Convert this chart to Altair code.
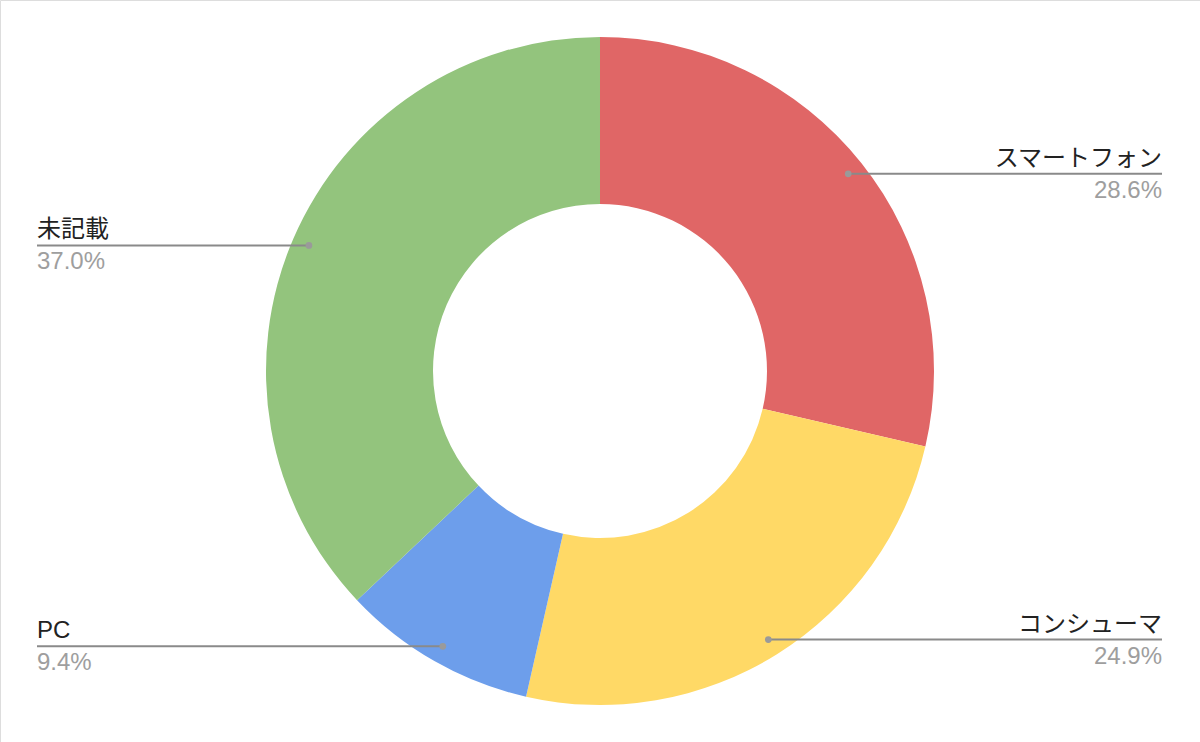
import math
import altair as alt
import pandas as pd

# Share of entries by device type
categories = ["スマートフォン", "コンシューマ", "PC", "未記載"]
shares = [28.6, 24.9, 9.4, 37.0]
percent_labels = ["28.6%", "24.9%", "9.4%", "37.0%"]
colors = ["#E06666", "#FFD966", "#6D9EEB", "#93C47D"]

W, H = 1200, 742
CX, CY = W / 2, H / 2
OUTER, INNER = 334, 167
ANCHOR_R = 317          # where each leader line starts, inside the slice
RIGHT_EDGE, LEFT_EDGE = 1162, 37
FONT = "Liberation Sans, Arial, 'Noto Sans CJK JP', sans-serif"

total = sum(shares)
rows = []
cum = 0.0
for i, (cat, v, pl) in enumerate(zip(categories, shares, percent_labels)):
    mid = (cum + v / 2) / total * 2 * math.pi
    cum += v
    ax = CX + ANCHOR_R * math.sin(mid)
    ay = CY - ANCHOR_R * math.cos(mid)
    right = math.sin(mid) > 0
    rows.append({
        "category": cat, "share": v, "pct": pl, "order": i,
        "ax": ax, "ay": ay,
        "lx": RIGHT_EDGE if right else LEFT_EDGE,
        "side": "right" if right else "left",
    })
df = pd.DataFrame(rows)

color_scale = alt.Scale(domain=categories, range=colors)

donut = alt.Chart(df).mark_arc(outerRadius=OUTER, innerRadius=INNER).encode(
    theta=alt.Theta("share:Q", stack=True),
    color=alt.Color("category:N", scale=color_scale, legend=None),
    order=alt.Order("order:Q"),
)

base = alt.Chart(df)

leaders = base.mark_rule(color="#8a8a8a", strokeWidth=2).encode(
    x=alt.X("ax:Q", scale=None),
    x2="lx:Q",
    y=alt.Y("ay:Q", scale=None),
)

dots = base.mark_circle(color="#9a9a9a", opacity=1, size=45).encode(
    x=alt.X("ax:Q", scale=None),
    y=alt.Y("ay:Q", scale=None),
)

def side_text(side, align):
    part = base.transform_filter(alt.datum.side == side)
    name = part.mark_text(
        align=align, baseline="bottom", dy=-3, font=FONT, fontSize=24, color="#222222"
    ).encode(
        x=alt.X("lx:Q", scale=None),
        y=alt.Y("ay:Q", scale=None),
        text="category:N",
    )
    pct = part.mark_text(
        align=align, baseline="top", dy=5, font=FONT, fontSize=24, color="#9e9e9e"
    ).encode(
        x=alt.X("lx:Q", scale=None),
        y=alt.Y("ay:Q", scale=None),
        text="pct:N",
    )
    return name + pct

chart = alt.layer(
    donut, leaders, dots, side_text("right", "right"), side_text("left", "left")
).properties(
    width=W, height=H, padding=0, autosize=alt.AutoSizeParams(type="none")
).configure_view(strokeWidth=0, stroke="transparent").configure(background="white")

chart.save("out.html", embed_options={"renderer": "svg", "actions": False})
